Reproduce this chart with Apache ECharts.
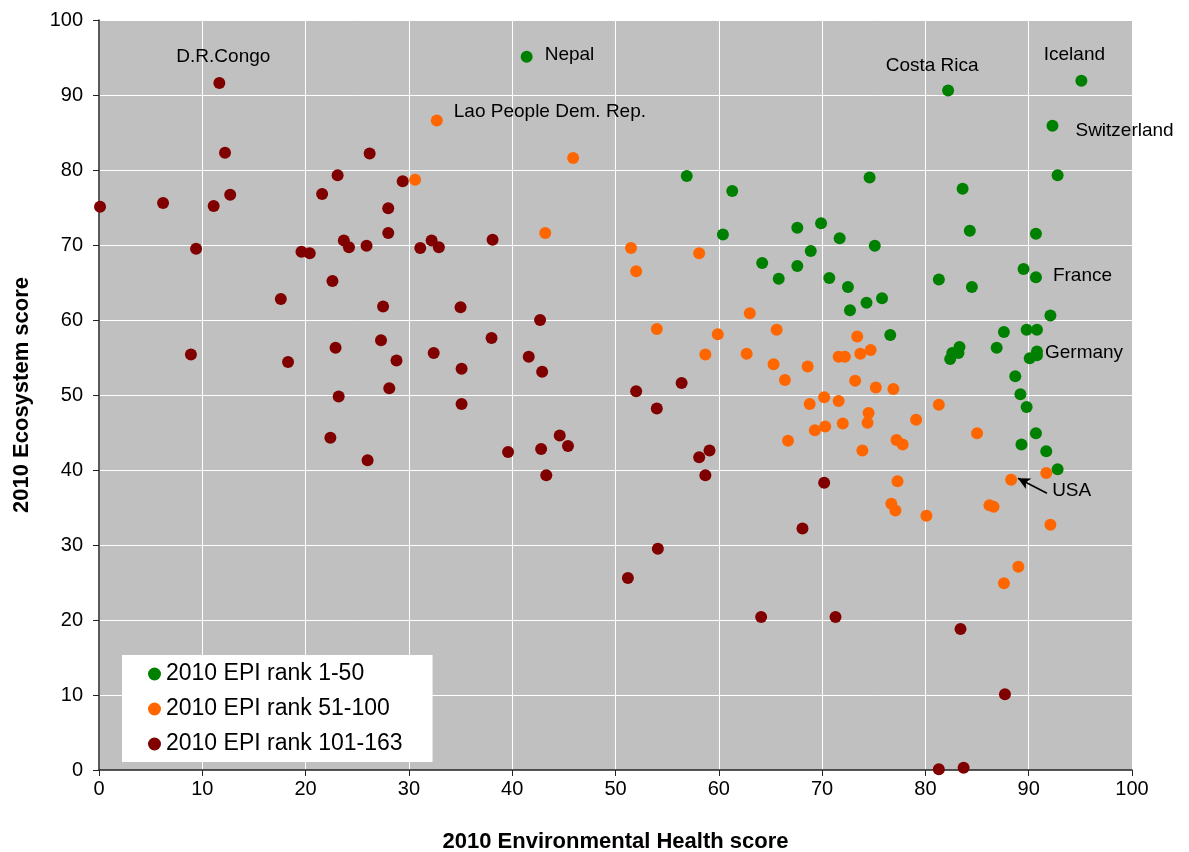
<!DOCTYPE html>
<html>
<head>
<meta charset="utf-8">
<script src="https://cdn.jsdelivr.net/npm/echarts@6/dist/echarts.min.js"></script>
<style>html,body{margin:0;padding:0;background:#fff}#c{width:1189px;height:852px}</style>
</head>
<body>
<div id="c"></div>
<script>
var seriesNames = ['2010 EPI rank 1-50', '2010 EPI rank 51-100', '2010 EPI rank 101-163'];
var xTicks = [0,10,20,30,40,50,60,70,80,90,100];
var yTicks = [0,10,20,30,40,50,60,70,80,90,100];

var rank1to50 = [
  [41.4,95.1],[56.9,79.2],[61.3,77.2],[60.4,71.4],[64.2,67.6],[65.8,65.5],[67.6,72.3],[69.9,72.9],
  [71.7,70.9],[75.1,69.9],[68.9,69.2],[67.6,67.2],[70.7,65.6],[72.5,64.4],[72.7,61.3],[74.3,62.3],
  [75.8,62.9],[76.6,58.0],[74.6,79.0],[82.2,90.6],[95.1,91.9],[92.3,85.9],[92.8,79.3],[83.6,77.5],
  [84.3,71.9],[90.7,71.5],[81.3,65.4],[84.5,64.4],[89.5,66.8],[90.7,65.7],[92.1,60.6],[87.6,58.4],
  [89.8,58.7],[90.8,58.7],[83.3,56.4],[82.6,55.6],[83.2,55.6],[82.4,54.8],[86.9,56.3],[90.8,55.8],
  [90.8,55.3],[90.1,54.9],[88.7,52.5],[89.2,50.1],[89.8,48.4],[90.7,44.9],[89.3,43.4],[91.7,42.5],
  [92.8,40.1]
];
var rank51to100 = [
  [32.7,86.6],[30.6,78.7],[45.9,81.6],[43.2,71.6],[51.5,69.6],[58.1,68.9],[52.0,66.5],[63.0,60.9],
  [54.0,58.8],[59.9,58.1],[65.6,58.7],[58.7,55.4],[62.7,55.5],[65.3,54.1],[73.4,57.8],[68.6,53.8],
  [71.6,55.1],[72.2,55.1],[73.7,55.5],[74.7,56.0],[66.4,52.0],[73.2,51.9],[75.2,51.0],[76.9,50.8],
  [70.2,49.7],[68.8,48.8],[71.6,49.2],[74.5,47.6],[74.4,46.3],[79.1,46.7],[81.3,48.7],[69.3,45.3],
  [70.3,45.8],[72.0,46.2],[66.7,43.9],[77.2,44.0],[77.8,43.4],[73.9,42.6],[85.0,44.9],[91.7,39.6],
  [88.3,38.7],[77.3,38.5],[76.7,35.5],[77.1,34.6],[80.1,33.9],[86.2,35.3],[86.6,35.1],[92.1,32.7],
  [89.0,27.1],[87.6,24.9]
];
var rank101to163 = [
  [0.1,75.1],[6.2,75.6],[8.9,55.4],[9.4,69.5],[11.1,75.2],[11.65,91.6],[12.2,82.3],[12.7,76.7],
  [17.6,62.8],[18.3,54.4],[19.6,69.1],[20.4,68.9],[21.6,76.8],[22.4,44.3],[22.6,65.2],[22.9,56.3],
  [23.1,79.3],[23.2,49.8],[23.7,70.6],[24.2,69.7],[25.9,69.9],[26.0,41.3],[26.2,82.2],[27.3,57.3],
  [27.5,61.8],[28.0,74.9],[28.0,71.6],[28.1,50.9],[28.8,54.6],[29.4,78.5],[31.1,69.6],[32.2,70.6],
  [32.4,55.6],[32.9,69.7],[35.0,61.7],[35.1,53.5],[35.1,48.8],[38.1,70.7],[38.0,57.6],[39.6,42.4],
  [41.6,55.1],[42.7,60.0],[42.9,53.1],[42.8,42.8],[43.3,39.3],[44.6,44.6],[45.4,43.2],[51.2,25.6],
  [52.0,50.5],[54.0,48.2],[54.1,29.5],[56.4,51.6],[58.1,41.7],[58.7,39.3],[59.1,42.6],[64.1,20.4],
  [68.1,32.2],[70.2,38.3],[71.3,20.4],[81.3,0.1],[83.4,18.8],[83.7,0.3],[87.7,10.1]
];

// country annotations: [series index, point index, name]
var annotations = [
  [2, 5, 'D.R.Congo'],
  [0, 0, 'Nepal'],
  [1, 0, 'Lao People Dem. Rep.'],
  [0, 19, 'Costa Rica'],
  [0, 20, 'Iceland'],
  [0, 21, 'Switzerland'],
  [0, 29, 'France'],
  [0, 39, 'Germany'],
  [1, 40, 'USA']
];
var usaArrow = [[88.96, 38.9], [91.77, 36.9]];

var FONT = "'Liberation Sans', Arial, sans-serif";
var labelStyles = {
  'D.R.Congo': {position: 'top', distance: 11, offset: [4, 0]},
  'Nepal': {position: 'right', distance: 12, offset: [0, -2]},
  'Lao People Dem. Rep.': {position: 'right', distance: 11, offset: [0, -9]},
  'Costa Rica': {position: 'top', distance: 9, offset: [-16, 0]},
  'Iceland': {position: 'top', distance: 10, offset: [-7, 0]},
  'Switzerland': {position: 'right', distance: 17, offset: [0, 5]},
  'France': {position: 'right', distance: 11, offset: [0, -1]},
  'Germany': {position: 'right', distance: 2, offset: [0, 1]},
  'USA': {position: 'right', distance: 35, offset: [0, 11]}
};

var raw = [rank1to50, rank51to100, rank101to163];
var datas = raw.map(function (arr) { return arr.map(function (p) { return {value: p}; }); });
annotations.forEach(function (a) {
  var st = labelStyles[a[2]];
  datas[a[0]][a[1]].label = {
    show: true, formatter: a[2], position: st.position, distance: st.distance, offset: st.offset,
    color: '#000', fontSize: 19, fontFamily: FONT
  };
});

var colors = ['#008000', '#FF6600', '#800000'];
var series = datas.map(function (d, i) {
  return {
    name: seriesNames[i], type: 'scatter', data: d, symbol: 'circle', symbolSize: 12,
    itemStyle: {color: colors[i], opacity: 1}, z: 3 + i, emphasis: {disabled: true}
  };
});
series[1].markLine = {
  silent: true, symbol: ['arrow', 'none'], symbolSize: [9, 12],
  lineStyle: {color: '#000', width: 1.5, type: 'solid'},
  label: {show: false},
  data: [[{coord: usaArrow[0]}, {coord: usaArrow[1]}]]
};

var chart = echarts.init(document.getElementById('c'));
chart.setOption({
  animation: false,
  backgroundColor: '#fff',
  grid: {left: 99, right: 57, top: 20, bottom: 82, show: true, backgroundColor: '#C0C0C0', borderWidth: 0,
         containLabel: false, outerBoundsMode: 'none'},
  legend: {
    orient: 'vertical', left: 122, top: 655, padding: [7, 30, 6, 26],
    backgroundColor: '#fff', itemWidth: 13, itemHeight: 13, itemGap: 11, itemTextGap: 10,
    selectedMode: false, icon: 'circle',
    textStyle: {fontSize: 23, lineHeight: 24, color: '#000', fontFamily: FONT},
    data: seriesNames
  },
  xAxis: {
    type: 'value', min: xTicks[0], max: xTicks[xTicks.length - 1], interval: xTicks[1] - xTicks[0],
    name: '2010 Environmental Health score', nameLocation: 'middle', nameGap: 61,
    nameTextStyle: {fontSize: 22, fontWeight: 'bold', color: '#000', fontFamily: FONT},
    axisLine: {show: true, lineStyle: {color: '#222', width: 1.5}},
    axisTick: {show: true, length: 6, lineStyle: {color: '#222'}},
    axisLabel: {fontSize: 20, color: '#000', margin: 9, fontFamily: FONT},
    splitLine: {show: true, lineStyle: {color: '#fff', width: 1}}
  },
  yAxis: {
    type: 'value', min: yTicks[0], max: yTicks[yTicks.length - 1], interval: yTicks[1] - yTicks[0],
    name: '2010 Ecosystem score', nameLocation: 'middle', nameGap: 66, nameRotate: 90,
    nameTextStyle: {fontSize: 22, fontWeight: 'bold', color: '#000', fontFamily: FONT},
    axisLine: {show: true, lineStyle: {color: '#222', width: 1.5}},
    axisTick: {show: true, length: 6, lineStyle: {color: '#222'}},
    axisLabel: {fontSize: 20, color: '#000', margin: 16, fontFamily: FONT},
    splitLine: {show: true, lineStyle: {color: '#fff', width: 1}}
  },
  series: series
});
</script>
</body>
</html>
